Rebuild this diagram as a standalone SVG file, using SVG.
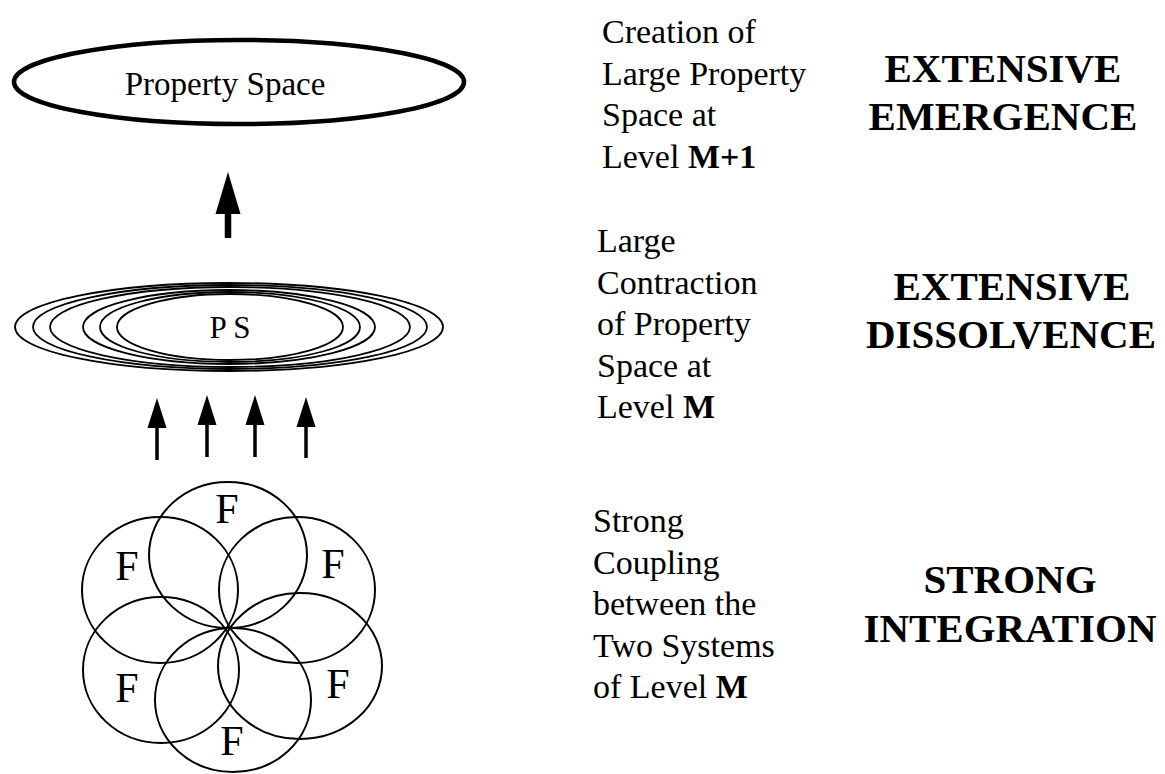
<svg xmlns="http://www.w3.org/2000/svg" width="1165" height="774" viewBox="0 0 1165 774">
  <defs>
    <style>
      .t { font-family: "Liberation Serif", "Times New Roman", serif; fill: #000; }
      .body { font-size: 34px; }
      .head { font-size: 41px; font-weight: bold; text-anchor: middle; }
      .ring { fill: none; stroke: #000; stroke-width: 1.8; }
      .petal { fill: none; stroke: #000; stroke-width: 2; }
      .flabel { font-size: 42px; text-anchor: middle; }
      .shaft { stroke: #000; fill: none; }
      .head-tri { fill: #000; stroke: none; }
    </style>
  </defs>
  <rect width="1165" height="774" fill="#fff"/>

  <!-- top level: the large property space -->
  <g id="property-space">
    <ellipse cx="239" cy="82" rx="225" ry="42" fill="none" stroke="#000" stroke-width="4.5"/>
    <text class="t" x="225" y="95" font-size="33" text-anchor="middle">Property Space</text>
  </g>

  <!-- contracted property spaces, nested -->
  <g id="ps-stack">
    <ellipse class="ring" cx="229" cy="327" rx="214" ry="44"/>
    <ellipse class="ring" cx="230" cy="327" rx="197" ry="42"/>
    <ellipse class="ring" cx="230" cy="327" rx="180" ry="40"/>
    <ellipse class="ring" cx="229" cy="327" rx="146" ry="37"/>
    <ellipse class="ring" cx="230" cy="327" rx="130" ry="35"/>
    <ellipse class="ring" cx="230" cy="327" rx="113" ry="33"/>
    <text class="t" x="230" y="338" font-size="31" text-anchor="middle">P S</text>
  </g>

  <!-- six coupled systems -->
  <g id="flower">
    <ellipse class="petal" cx="228" cy="555" rx="79" ry="73"/>
    <ellipse class="petal" cx="160" cy="590" rx="78" ry="73"/>
    <ellipse class="petal" cx="297" cy="590" rx="78" ry="73"/>
    <ellipse class="petal" cx="161" cy="670" rx="78" ry="73"/>
    <ellipse class="petal" cx="300" cy="666" rx="82" ry="73"/>
    <ellipse class="petal" cx="233" cy="700" rx="78" ry="72"/>
    <text class="t flabel" x="227" y="523">F</text>
    <text class="t flabel" x="127" y="580">F</text>
    <text class="t flabel" x="333" y="578">F</text>
    <text class="t flabel" x="127" y="702">F</text>
    <text class="t flabel" x="338" y="698">F</text>
    <text class="t flabel" x="232" y="755">F</text>
  </g>

  <!-- upward arrows -->
  <g id="connectors">
    <line class="shaft" x1="228" y1="238" x2="228" y2="210" stroke-width="6.5"/>
    <polygon class="head-tri" points="228,172 240.5,214 215.5,214"/>

    <line class="shaft" x1="157" y1="460" x2="157" y2="425" stroke-width="3.5"/>
    <polygon class="head-tri" points="157,398 166.5,428 147.5,428"/>
    <line class="shaft" x1="207" y1="457" x2="207" y2="422" stroke-width="3.5"/>
    <polygon class="head-tri" points="207,395 216.5,425 197.5,425"/>
    <line class="shaft" x1="255" y1="457" x2="255" y2="422" stroke-width="3.5"/>
    <polygon class="head-tri" points="255,395 264.5,425 245.5,425"/>
    <line class="shaft" x1="306" y1="458" x2="306" y2="424" stroke-width="3.5"/>
    <polygon class="head-tri" points="306,397 315.5,427 296.5,427"/>
  </g>

  <!-- descriptions -->
  <g id="desc-emergence">
    <text class="t body" x="602" y="43">Creation of</text>
    <text class="t body" x="602" y="84.5">Large Property</text>
    <text class="t body" x="602" y="126">Space at</text>
    <text class="t body" x="602" y="167.5">Level <tspan font-weight="bold">M+1</tspan></text>
  </g>
  <g id="desc-dissolvence">
    <text class="t body" x="597" y="252">Large</text>
    <text class="t body" x="597" y="293.5">Contraction</text>
    <text class="t body" x="597" y="335">of Property</text>
    <text class="t body" x="597" y="376.5">Space at</text>
    <text class="t body" x="597" y="418">Level <tspan font-weight="bold">M</tspan></text>
  </g>
  <g id="desc-integration">
    <text class="t body" x="593" y="532">Strong</text>
    <text class="t body" x="593" y="573.5">Coupling</text>
    <text class="t body" x="593" y="615">between the</text>
    <text class="t body" x="593" y="656.5">Two Systems</text>
    <text class="t body" x="593" y="698">of Level <tspan font-weight="bold">M</tspan></text>
  </g>

  <!-- headings -->
  <g id="head-emergence">
    <text class="t head" x="1003" y="82">EXTENSIVE</text>
    <text class="t head" x="1003" y="130">EMERGENCE</text>
  </g>
  <g id="head-dissolvence">
    <text class="t head" x="1012" y="300">EXTENSIVE</text>
    <text class="t head" x="1011" y="348">DISSOLVENCE</text>
  </g>
  <g id="head-integration">
    <text class="t head" x="1010" y="593">STRONG</text>
    <text class="t head" x="1010" y="642">INTEGRATION</text>
  </g>
</svg>
